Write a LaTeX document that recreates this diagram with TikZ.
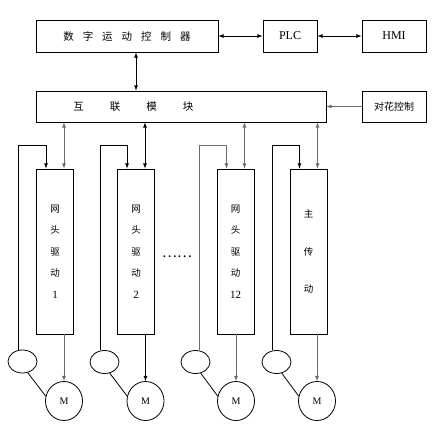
\documentclass[tikz,border=0pt]{standalone}
\usepackage{fontspec}
\setmainfont{Liberation Serif}
\newfontfamily\cjk{Noto Sans CJK SC}
\usetikzlibrary{shapes.geometric}
\newcommand\wgap{\hspace{9pt}}
\newcommand\hgap{\hspace{26pt}}

\tikzset{
  blk/.style={draw, rectangle, inner sep=0pt},
  drv/.style={blk, minimum width=37pt, minimum height=165pt, align=center,
    font=\cjk\fontsize{9.5}{21.5}\selectfont},
  enc/.style={draw, ellipse, minimum width=29pt, minimum height=23pt, inner sep=0pt},
  mot/.style={draw, ellipse, minimum width=37pt, minimum height=39pt, inner sep=0pt,
    font=\fontsize{10}{12}\selectfont},
  gr/.style={draw=black!58},
}

\begin{document}
\begin{tikzpicture}[x=1pt, y=-1pt, line width=0.8pt, >=latex]
\useasboundingbox (0,0) rectangle (436,426);
% top row
\node[blk, minimum width=182pt, minimum height=32pt, font=\cjk\fontsize{10.5}{12}\selectfont]
  (ctrl) at (127,36) {数\wgap 字\wgap 运\wgap 动\wgap 控\wgap 制\wgap 器};
\node[blk, minimum width=54pt, minimum height=32pt, font=\fontsize{12}{14}\selectfont]
  (plc) at (290,36) {PLC};
\node[blk, minimum width=64pt, minimum height=32pt, font=\fontsize{12}{14}\selectfont]
  (hmi) at (394,36) {HMI};
\draw[<->] (ctrl) -- (plc);
\draw[<->] (plc) -- (hmi);

% interconnect module
\node[blk, minimum width=290pt, minimum height=31pt] (bus) at (181,106.5) {};
\node[anchor=west, inner sep=0pt, font=\cjk\fontsize{10.5}{12}\selectfont]
  (bustxt) at (73,106.5) {互\hgap 联\hgap 模\hgap 块};
\node[blk, minimum width=64pt, minimum height=31pt, font=\cjk\fontsize{10}{12}\selectfont]
  (match) at (394,106.5) {对花控制};
\draw[<->] ([xshift=9pt]ctrl.south) -- ([xshift=9pt]ctrl.south |- bus.north);
\draw[->, gr] (match) -- (bus);

% drives
\node[drv] (d1) at (55,251.5) {网\\头\\驱\\动\\\rmfamily\fontsize{11}{21.5}\selectfont 1};
\node[drv] (d2) at (136,251.5) {网\\头\\驱\\动\\\rmfamily\fontsize{11}{21.5}\selectfont 2};
\node[drv] (d3) at (235.5,251.5) {网\\头\\驱\\动\\\rmfamily\fontsize{11}{21.5}\selectfont 12};
\node[drv, font=\cjk\fontsize{9.5}{37.5}\selectfont] (d4) at (308.5,251.5) {主\\传\\动};
\node[font=\cjk\fontsize{14}{14}\selectfont] (dots) at (177,257) {……};

% encoders and motors
\node[enc] (e1) at (22.5,361.5) {};
\node[enc] (e2) at (104.5,362) {};
\node[enc] (e3) at (195.5,362) {};
\node[enc] (e4) at (276.5,362) {};
\node[mot] (m1) at (64,401) {M};
\node[mot] (m2) at (145.5,401) {M};
\node[mot] (m3) at (236,401) {M};
\node[mot] (m4) at (317,401) {M};

% bus links
\draw[<->, gr] ([xshift=9pt]d1.north |- bus.south) -- ([xshift=9pt]d1.north);
\draw[<->] ([xshift=9pt]d2.north |- bus.south) -- ([xshift=9pt]d2.north);
\draw[<->, gr] ([xshift=9pt]d3.north |- bus.south) -- ([xshift=9pt]d3.north);
\draw[<->, gr] ([xshift=9pt]d4.north |- bus.south) -- ([xshift=9pt]d4.north);

% feedback loops
\draw[->] ([xshift=-4pt]e1.north) |- ([xshift=-9pt, yshift=23pt]d1.north) -- ([xshift=-9pt]d1.north);
\draw[->] ([xshift=-4pt]e2.north) |- ([xshift=-9pt, yshift=23pt]d2.north) -- ([xshift=-9pt]d2.north);
\draw[->, gr] ([xshift=4pt]e3.north) |- ([xshift=-9pt, yshift=23pt]d3.north) -- ([xshift=-9pt]d3.north);
\draw[->] ([xshift=-4pt]e4.north) |- ([xshift=-9pt, yshift=23pt]d4.north) -- ([xshift=-9pt]d4.north);

% drive outputs
\draw[->, gr] (d1.south -| m1.north) -- (m1.north);
\draw[->] (d2.south -| m2.north) -- (m2.north);
\draw[->, gr] (d3.south -| m3.north) -- (m3.north);
\draw[->, gr] (d4.south -| m4.north) -- (m4.north);
\draw (e1.-65) -- (m1.165);
\draw (e2.-65) -- (m2.165);
\draw (e3.-65) -- (m3.165);
\draw (e4.-65) -- (m4.165);
\end{tikzpicture}
\end{document}
